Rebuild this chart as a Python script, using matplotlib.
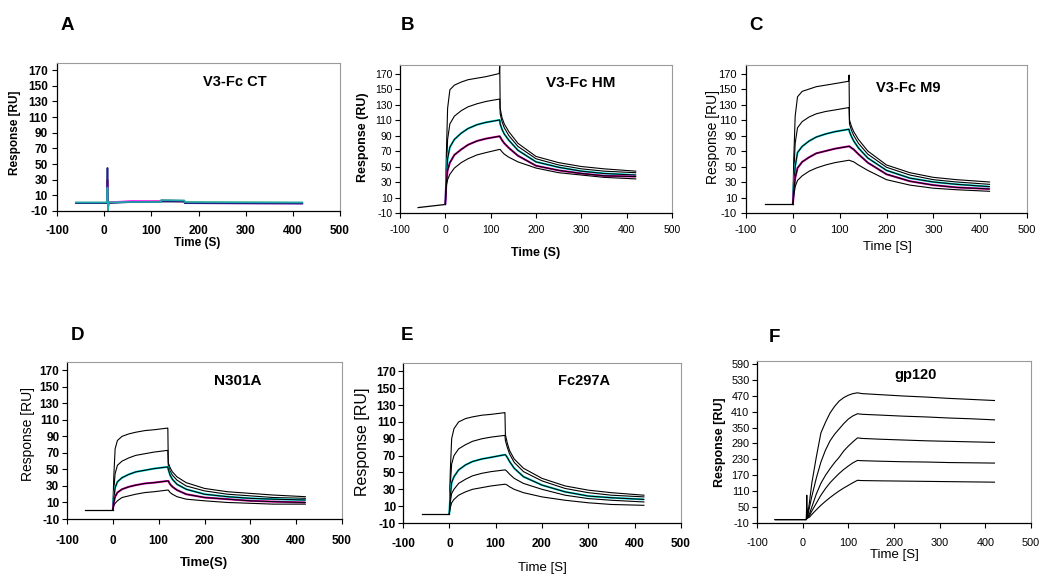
import numpy as np
import matplotlib
matplotlib.use("Agg")
import matplotlib.pyplot as plt

plt.rcParams["font.family"] = ["Liberation Sans", "DejaVu Sans"]
plt.rcParams["axes.unicode_minus"] = False

# --- data --------------------------------------------------------------
# time grids (s)
T_BASE = [-60, 0]
T_ON = [0, 2, 5, 10, 20, 35, 50, 70, 90, 119]
T_OFF = [120, 121, 125, 130, 140, 160, 200, 250, 300, 350, 420]

# panel A: control, noisy flat traces with an injection spike
T_A = [-60, 0, 5, 6, 7, 8, 10, 60, 120, 121, 170, 171, 420]
A_NAVY = [0, 0, 0, 0, 45, -5, 0, 1.5, 1.5, 2, 2, 0, -0.5]
A_RED = [0.5, 0.5, 0.5, 0.5, 30, 0, 1, 2, 2.5, 3.5, 3, 0.5, 0]
A_MAGENTA = [0, 0, 0, 0, 25, -2, 1, 3, 2.5, 3, 2, 0, -0.5]
A_YELLOW = [0.5, 0.5, 0.5, 0.5, 10, 0, 1, 2, 2, 2.5, 2, 1, 0.5]
A_CYAN = [1, 1, 1, 1, 20, -10, 1, 1.5, 1.5, 4, 3.5, 1.5, 1]

# panel B: V3-Fc HM
B_BASE = [-3, 1]
B_ON = [
    [1, 60, 125, 149, 155, 159, 162, 164, 166, 170],
    [1, 40, 85, 105, 115, 122, 127, 131, 134, 137],
    [1, 30, 60, 75, 85, 93, 99, 104, 107, 110],
    [1, 28, 45, 55, 65, 72, 78, 83, 86, 89],
    [1, 25, 33, 40, 48, 55, 60, 65, 68, 72],
]
B_OFF = [
    [182, 125, 113, 105, 95, 80, 63, 55, 50, 47, 44],
    [137, 118, 108, 100, 90, 76, 60, 52, 47, 44, 42],
    [110, 105, 98, 92, 84, 71, 56, 49, 44, 41, 39],
    [89, 88, 84, 80, 74, 64, 51, 45, 41, 38, 37],
    [72, 72, 69, 66, 62, 56, 48, 42, 39, 36, 34],
]

# panel C: V3-Fc M9
C_BASE = [1, 1]
C_ON = [
    [1, 60, 115, 140, 147, 150, 153, 155, 157, 160],
    [1, 40, 80, 100, 108, 114, 118, 121, 123, 126],
    [1, 25, 50, 68, 76, 83, 88, 92, 95, 98],
    [1, 18, 35, 48, 56, 62, 67, 70, 73, 76],
    [1, 12, 24, 32, 38, 44, 48, 52, 55, 58],
]
C_OFF = [
    [168, 110, 102, 95, 85, 70, 52, 42, 36, 33, 30],
    [126, 105, 97, 90, 80, 66, 49, 39, 33, 30, 27],
    [98, 95, 89, 83, 74, 61, 45, 35, 30, 27, 24],
    [76, 76, 74, 72, 66, 55, 40, 31, 26, 23, 21],
    [58, 58, 57, 56, 52, 45, 33, 26, 22, 20, 18],
]

# panel D: N301A
D_BASE = [1, 1]
D_ON = [
    [1, 40, 75, 85, 90, 93, 95, 97, 98, 100],
    [1, 25, 45, 55, 60, 64, 67, 69, 71, 73],
    [1, 15, 28, 35, 40, 44, 47, 49, 51, 53],
    [1, 10, 17, 22, 26, 29, 31, 33, 34, 36],
    [1, 6, 9, 12, 16, 18, 20, 22, 23, 25],
]
D_OFF = [
    [100, 58, 52, 47, 41, 34, 27, 23, 21, 19, 17],
    [73, 55, 48, 43, 37, 30, 24, 20, 18, 16, 15],
    [53, 50, 43, 38, 32, 26, 20, 17, 15, 14, 13],
    [36, 36, 32, 29, 25, 20, 16, 14, 12, 11, 10],
    [25, 25, 22, 20, 17, 14, 12, 10, 9, 8, 8],
]

# panel E: Fc297A
E_BASE = [1, 1]
E_ON = [
    [1, 50, 90, 102, 110, 114, 116, 118, 119, 121],
    [1, 35, 60, 70, 78, 83, 87, 90, 92, 94],
    [1, 22, 38, 45, 53, 59, 63, 66, 68, 71],
    [1, 15, 25, 30, 37, 42, 46, 49, 51, 53],
    [1, 8, 14, 18, 23, 27, 30, 32, 34, 36],
]
E_OFF = [
    [121, 95, 85, 76, 66, 55, 43, 34, 29, 26, 23],
    [94, 88, 80, 72, 62, 51, 40, 31, 26, 23, 21],
    [71, 71, 68, 63, 55, 45, 35, 27, 22, 20, 18],
    [53, 53, 51, 48, 43, 37, 30, 23, 19, 17, 15],
    [36, 36, 35, 33, 30, 26, 21, 17, 14, 12, 11],
]

# panel F: gp120
T_F = [-60, 8, 9, 10, 15, 20, 30, 40, 50, 60, 70, 80, 90, 100, 110, 120,
       130, 170, 220, 270, 320, 370, 420]
F_CURVES = [
    [3, 3, 95, 8, 70, 140, 240, 330, 370, 405, 430, 450, 463, 472, 478, 481,
     478, 474, 469, 465, 460, 456, 452],
    [3, 3, 45, 8, 50, 90, 160, 220, 265, 300, 325, 345, 365, 382, 394, 402,
     400, 397, 393, 390, 386, 383, 379],
    [3, 3, 8, 8, 25, 50, 100, 140, 170, 195, 218, 238, 262, 280, 296, 311,
     309, 306, 303, 300, 298, 296, 294],
    [3, 3, 8, 8, 18, 35, 65, 95, 120, 142, 160, 177, 192, 205, 217, 226,
     225, 223, 221, 220, 218, 217, 216],
    [3, 3, 8, 8, 12, 22, 40, 57, 72, 86, 99, 111, 122, 132, 142, 151,
     150, 149, 148, 147, 146, 145, 144],
]

X_TICKS = [-100, 0, 100, 200, 300, 400, 500]
Y_TICKS = list(range(-10, 171, 20))
Y_TICKS_F = list(range(-10, 591, 60))

# --- layout helpers ------------------------------------------------------
W, H = 1050, 584
fig = plt.figure(figsize=(W / 100, H / 100), dpi=100)


def px_axes(l, t, r, b):
    return fig.add_axes([l / W, 1 - b / H, (r - l) / W, (b - t) / H])


def px_text(x, y, s, **kw):
    fig.text(x / W, 1 - y / H, s, ha="center", va="center", **kw)


def style(ax, ylim, yticks, fs, weight, xpad, ypad):
    ax.set_xlim(-100, 500)
    ax.set_ylim(*ylim)
    ax.set_xticks(X_TICKS)
    ax.set_yticks(yticks)
    for s in ("top", "right"):
        ax.spines[s].set_color("#9a9a9a")
        ax.spines[s].set_linewidth(0.8)
    for s in ("left", "bottom"):
        ax.spines[s].set_color("black")
        ax.spines[s].set_linewidth(0.9)
    ax.tick_params(axis="x", direction="out", length=3.5, width=0.8,
                   labelsize=fs, pad=xpad)
    ax.tick_params(axis="y", direction="out", length=3.5, width=0.8,
                   labelsize=fs, pad=ypad)
    for lab in ax.get_xticklabels() + ax.get_yticklabels():
        lab.set_fontweight(weight)


def draw_kinetics(ax, base, on, off, overlay):
    ax.plot(T_BASE, base, color="black", lw=0.9)
    for i in range(len(on)):
        t = T_ON + T_OFF
        y = on[i] + off[i]
        if i in overlay:
            ax.plot(t, y, color=overlay[i], lw=1.5, solid_capstyle="butt")
        ax.plot(t, y, color="black", lw=0.8)


OVER = {2: "#00e5e5", 3: "#e000b0"}

# A
ax = px_axes(57, 63, 340, 211)
for ys, c in [(A_YELLOW, "#f0e000"), (A_RED, "#b00030"), (A_MAGENTA, "#ff30ff"),
              (A_NAVY, "#202080"), (A_CYAN, "#20a8a8")]:
    ax.plot(T_A, ys, color=c, lw=1.2)
style(ax, (-10, 179), Y_TICKS, 8.5, "bold", 6.5, 3)

# B
ax = px_axes(400, 65, 672, 213)
draw_kinetics(ax, B_BASE, B_ON, B_OFF, OVER)
style(ax, (-10, 181), Y_TICKS, 7.5, "normal", 5.4, 2)

# C
ax = px_axes(746, 65, 1027, 213)
draw_kinetics(ax, C_BASE, C_ON, C_OFF, OVER)
style(ax, (-10, 181), Y_TICKS, 8, "normal", 5.4, 3)

# D
ax = px_axes(67, 362, 342, 519)
draw_kinetics(ax, D_BASE, D_ON, D_OFF, OVER)
style(ax, (-10, 180), Y_TICKS, 8.5, "bold", 8.3, 2)

# E
ax = px_axes(403, 363, 681, 523)
draw_kinetics(ax, E_BASE, E_ON, E_OFF, {2: "#00e5e5"})
style(ax, (-10, 180), Y_TICKS, 8.5, "bold", 7.5, 1.5)

# F
ax = px_axes(757, 361, 1031, 523)
for ys in F_CURVES:
    ax.plot(T_F, ys, color="black", lw=0.8)
style(ax, (-10, 601), Y_TICKS_F, 7.8, "normal", 7.5, 2)

# panel letters
for x, y, s in [(67, 25, "A"), (407, 26, "B"), (756, 26, "C"),
                (77, 336, "D"), (407, 336, "E"), (774, 337, "F")]:
    px_text(x, y, s, fontsize=13.5, fontweight="bold")

# inner titles
px_text(235, 82, "V3-Fc CT", fontsize=10.5, fontweight="bold")
px_text(581, 83, "V3-Fc HM", fontsize=11, fontweight="bold")
px_text(908, 88, "V3-Fc M9", fontsize=10.5, fontweight="bold")
px_text(238, 381, "N301A", fontsize=11, fontweight="bold")
px_text(584, 381, "Fc297A", fontsize=10.5, fontweight="bold")
px_text(916, 375, "gp120", fontsize=10.5, fontweight="bold")

# x labels
px_text(197, 243, "Time (S)", fontsize=8.5, fontweight="bold")
px_text(536, 253, "Time (S)", fontsize=9, fontweight="bold")
px_text(887, 247, "Time [S]", fontsize=9.5)
px_text(204, 563, "Time(S)", fontsize=9.5, fontweight="bold")
px_text(542, 568, "Time [S]", fontsize=9.5)
px_text(894, 555, "Time [S]", fontsize=9.5)

# y labels
px_text(15, 133, "Response [RU]", fontsize=8.5, fontweight="bold", rotation=90)
px_text(363, 137, "Response (RU)", fontsize=9, fontweight="bold", rotation=90)
px_text(713, 137, "Response [RU]", fontsize=10, rotation=90)
px_text(28, 434, "Response [RU]", fontsize=10, rotation=90)
px_text(363, 442, "Response [RU]", fontsize=11.5, rotation=90)
px_text(720, 442, "Response [RU]", fontsize=9, fontweight="bold", rotation=90)

fig.savefig("out.png", dpi=100)
